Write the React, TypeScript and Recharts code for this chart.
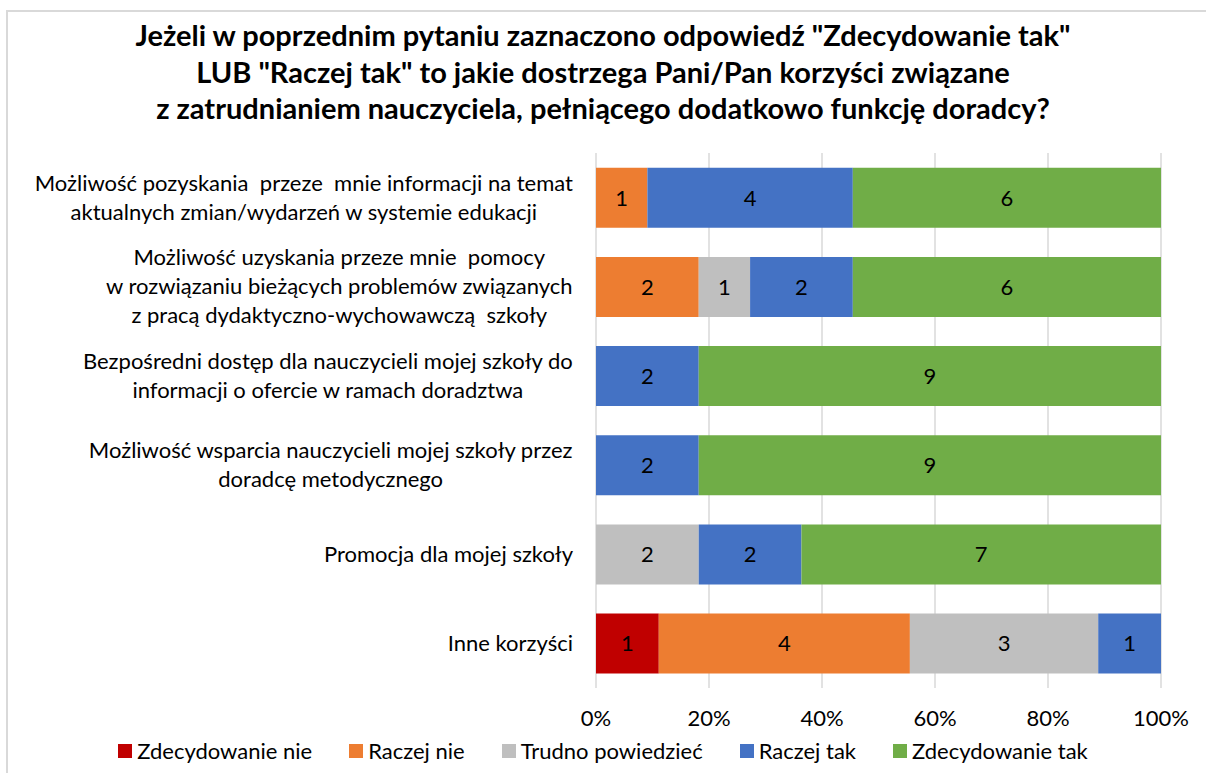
import { BarChart, Bar, XAxis, YAxis, CartesianGrid, LabelList } from 'recharts';

const FONT = 'Lato, "Open Sans", sans-serif';

const titleLines = [
  'Jeżeli w poprzednim pytaniu zaznaczono odpowiedź "Zdecydowanie tak"',
  'LUB "Raczej tak" to jakie dostrzega Pani/Pan korzyści związane',
  'z zatrudnianiem nauczyciela, pełniącego dodatkowo funkcję doradcy?',
];

const categories = [
  'Możliwość pozyskania  przeze  mnie informacji na temat\naktualnych zmian/wydarzeń w systemie edukacji',
  'Możliwość uzyskania przeze mnie  pomocy\nw rozwiązaniu bieżących problemów związanych\nz pracą dydaktyczno-wychowawczą  szkoły',
  'Bezpośredni dostęp dla nauczycieli mojej szkoły do\ninformacji o ofercie w ramach doradztwa',
  'Możliwość wsparcia nauczycieli mojej szkoły przez\ndoradcę metodycznego',
  'Promocja dla mojej szkoły',
  'Inne korzyści',
];

const zdecydowanieNie = [0, 0, 0, 0, 0, 1];
const raczejNie = [1, 2, 0, 0, 0, 4];
const trudnoPowiedziec = [0, 1, 0, 0, 2, 3];
const raczejTak = [4, 2, 2, 2, 2, 1];
const zdecydowanieTak = [6, 6, 9, 9, 7, 0];

const xTicks = [0, 0.2, 0.4, 0.6, 0.8, 1];

const series = [
  { key: 'zn', name: 'Zdecydowanie nie', color: '#C00000', values: zdecydowanieNie },
  { key: 'rn', name: 'Raczej nie', color: '#ED7D31', values: raczejNie },
  { key: 'tp', name: 'Trudno powiedzieć', color: '#BFBFBF', values: trudnoPowiedziec },
  { key: 'rt', name: 'Raczej tak', color: '#4472C4', values: raczejTak },
  { key: 'zt', name: 'Zdecydowanie tak', color: '#70AD47', values: zdecydowanieTak },
];

const data = categories.map((name, i) => {
  const row: Record<string, string | number> = { name };
  series.forEach((s) => (row[s.key] = s.values[i]));
  return row;
});

const LABEL_SIZE = 22;
let ctx: CanvasRenderingContext2D | null = null;
function measure(text: string) {
  if (!ctx) {
    ctx = document.createElement('canvas').getContext('2d');
  }
  if (!ctx) return text.length * 10;
  ctx.font = `${LABEL_SIZE}px Lato`;
  return ctx.measureText(text).width;
}

// multi-line category label: block right-aligned to the axis, lines centred within it
function CategoryTick(props: any) {
  const { x, y, payload } = props;
  const lines = String(payload.value).split('\n');
  const maxW = Math.max(...lines.map(measure));
  const cx = x - maxW / 2;
  const lh = 29;
  const y0 = y - ((lines.length - 1) * lh) / 2;
  return (
    <text textAnchor="middle" fontSize={LABEL_SIZE} fill="#000" fontFamily={FONT} style={{ whiteSpace: 'pre' }}>
      {lines.map((l, i) => (
        <tspan key={i} x={cx} y={y0 + i * lh} dy="0.35em">
          {l}
        </tspan>
      ))}
    </text>
  );
}

function LegendRow() {
  return (
    <div style={{ display: 'flex', justifyContent: 'center', gap: 37, fontSize: LABEL_SIZE, fontFamily: FONT, color: '#000' }}>
      {series.map((s) => (
        <div key={s.key} style={{ display: 'flex', alignItems: 'center' }}>
          <span style={{ width: 14, height: 14, background: s.color, marginRight: 5, display: 'inline-block' }} />
          <span>{s.name}</span>
        </div>
      ))}
    </div>
  );
}

export default function App() {
  return (
    <div style={{ position: 'absolute', left: 0, top: 0, width: 1206, height: 773, background: '#fff', overflow: 'hidden', fontFamily: FONT }}>
      <div style={{ position: 'absolute', left: 6, top: 10, width: 1220, height: 800, border: '2px solid #D9D9D9' }} />
      <div style={{ position: 'absolute', left: 0, top: 17, width: 1206, textAlign: 'center', fontWeight: 700, fontSize: 29, lineHeight: '36.5px', color: '#000' }}>
        {titleLines.map((t, i) => (
          <div key={i}>{t}</div>
        ))}
      </div>
      <div style={{ position: 'absolute', left: 0, top: 0 }}>
        <BarChart
          width={1206}
          height={773}
          data={data}
          layout="vertical"
          stackOffset="expand"
          barCategoryGap="16.5%"
          margin={{ top: 153, right: 45, bottom: 0, left: 0 }}
        >
          <CartesianGrid horizontal={false} stroke="#D9D9D9" strokeWidth={1.5} />
          <XAxis
            type="number"
            domain={[0, 1]}
            ticks={xTicks}
            tickFormatter={(v: number) => `${Math.round(v * 100)}%`}
            axisLine={false}
            tickLine={false}
            tickSize={0}
            tickMargin={22}
            tick={{ fill: '#000', fontSize: LABEL_SIZE, fontFamily: FONT }}
            height={85}
          />
          <YAxis
            type="category"
            dataKey="name"
            width={596}
            axisLine={false}
            tickLine={false}
            tickSize={0}
            tickMargin={23}
            tick={<CategoryTick />}
            interval={0}
          />
          {series.map((s) => (
            <Bar key={s.key} dataKey={s.key} name={s.name} stackId="a" fill={s.color} isAnimationActive={false}>
              <LabelList
                dataKey={s.key}
                position="center"
                fill="#000"
                fontSize={LABEL_SIZE}
                fontFamily={FONT}
                formatter={(v: any) => (v ? v : '')}
              />
            </Bar>
          ))}
        </BarChart>
      </div>
      <div style={{ position: 'absolute', left: 0, top: 737, width: 1206 }}>
        <LegendRow />
      </div>
    </div>
  );
}
